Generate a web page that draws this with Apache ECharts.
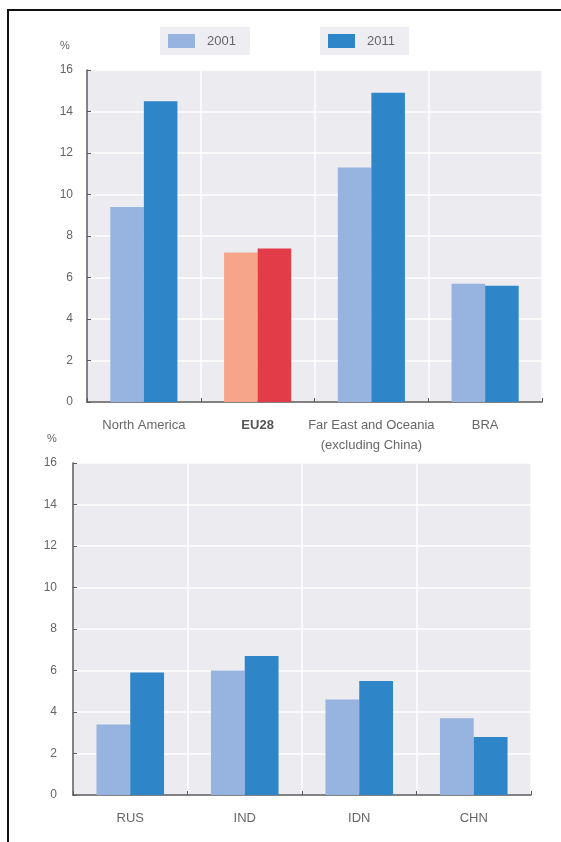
<!DOCTYPE html>
<html>
<head>
<meta charset="utf-8">
<script src="https://cdn.jsdelivr.net/npm/echarts@6/dist/echarts.min.js"></script>
<style>
html,body{margin:0;padding:0;background:#fff;}
#c{width:561px;height:842px;}
</style>
</head>
<body>
<div id="c"></div>
<script>
var topCategories = ['North America', 'EU28', 'Far East and Oceania\n(excluding China)', 'BRA'];
var top2001 = [9.4, 7.2, 11.3, 5.7];
var top2011 = [14.5, 7.4, 14.9, 5.6];
var bottomCategories = ['RUS', 'IND', 'IDN', 'CHN'];
var bottom2001 = [3.4, 6.0, 4.6, 3.7];
var bottom2011 = [5.9, 6.7, 5.5, 2.8];
var seriesNames = ['2001', '2011'];
var yTicks = [0, 2, 4, 6, 8, 10, 12, 14, 16];

var C2001 = '#97b3e0', C2011 = '#2e85c7';
var EU2001 = '#f6a58b', EU2011 = '#e13c47';
var FONT = "'Liberation Sans', Arial, sans-serif";
var LABEL = '#666';
var AXIS = '#5a5a5a';

function colored(vals, cats, col, euCol) {
  return vals.map(function (v, i) {
    if (cats[i] === 'EU28') return { value: v, itemStyle: { color: euCol } };
    return v;
  });
}

function xAxisOpt(idx, cats) {
  return {
    type: 'category', gridIndex: idx, data: cats,
    axisLine: { show: true, lineStyle: { color: AXIS, width: 1.5 } },
    axisTick: { show: true, inside: true, length: 4, interval: 0, lineStyle: { color: AXIS } },
    splitLine: { show: true, interval: 0, lineStyle: { color: '#ffffff', width: 1.5 } },
    axisLabel: {
      interval: 0,
      color: LABEL, fontFamily: FONT, fontSize: 13, margin: 13, lineHeight: 20,
      formatter: function (v) { return v === 'EU28' ? '{b|' + v + '}' : v; },
      rich: { b: { fontWeight: 'bold', color: '#555', fontFamily: FONT, fontSize: 13 } }
    }
  };
}

function yAxisOpt(idx, margin) {
  return {
    type: 'value', gridIndex: idx, min: yTicks[0], max: yTicks[yTicks.length - 1], interval: 2,
    axisLine: { show: true, lineStyle: { color: AXIS, width: 1.5 } },
    axisTick: { show: true, inside: true, length: 4, lineStyle: { color: AXIS } },
    splitLine: { show: true, lineStyle: { color: '#ffffff', width: 1.5 } },
    axisLabel: { color: LABEL, fontFamily: FONT, fontSize: 12, margin: margin }
  };
}

function bar(name, idx, data, color) {
  return {
    name: name, type: 'bar', xAxisIndex: idx, yAxisIndex: idx, data: data,
    itemStyle: { color: color }, barGap: '0%', barCategoryGap: '41%', animation: false
  };
}

var chart = echarts.init(document.getElementById('c'), null, { renderer: 'canvas' });
chart.setOption({
  animation: false,
  backgroundColor: '#ffffff',
  legend: [
    { data: [seriesNames[0]], left: 160, top: 27, backgroundColor: '#eeeef2',
      padding: [7, 14, 7, 8], itemWidth: 27, itemHeight: 14, icon: 'rect', selectedMode: false,
      textStyle: { color: '#666', fontFamily: FONT, fontSize: 13, padding: [0, 0, 0, 7] } },
    { data: [seriesNames[1]], left: 320, top: 27, backgroundColor: '#eeeef2',
      padding: [7, 14, 7, 8], itemWidth: 27, itemHeight: 14, icon: 'rect', selectedMode: false,
      textStyle: { color: '#666', fontFamily: FONT, fontSize: 13, padding: [0, 0, 0, 7] } }
  ],
  grid: [
    { left: 87, right: 19, top: 70, bottom: 440, show: true, backgroundColor: '#ebebf0', borderWidth: 0 },
    { left: 73, right: 30, top: 463, bottom: 47, show: true, backgroundColor: '#ebebf0', borderWidth: 0 }
  ],
  xAxis: [xAxisOpt(0, topCategories), xAxisOpt(1, bottomCategories)],
  yAxis: [yAxisOpt(0, 14), yAxisOpt(1, 16)],
  series: [
    bar(seriesNames[0], 0, colored(top2001, topCategories, C2001, EU2001), C2001),
    bar(seriesNames[1], 0, colored(top2011, topCategories, C2011, EU2011), C2011),
    bar(seriesNames[0], 1, bottom2001, C2001),
    bar(seriesNames[1], 1, bottom2011, C2011)
  ],
  graphic: [
    { type: 'rect', shape: { x: 8, y: 10, width: 600, height: 900 }, style: { fill: 'none', stroke: '#111', lineWidth: 2 }, silent: true },
    { type: 'text', left: 60, top: 40, style: { text: '%', fill: LABEL, font: "11px 'Liberation Sans', Arial" } },
    { type: 'text', left: 47, top: 433, style: { text: '%', fill: LABEL, font: "11px 'Liberation Sans', Arial" } }
  ]
});
</script>
</body>
</html>
